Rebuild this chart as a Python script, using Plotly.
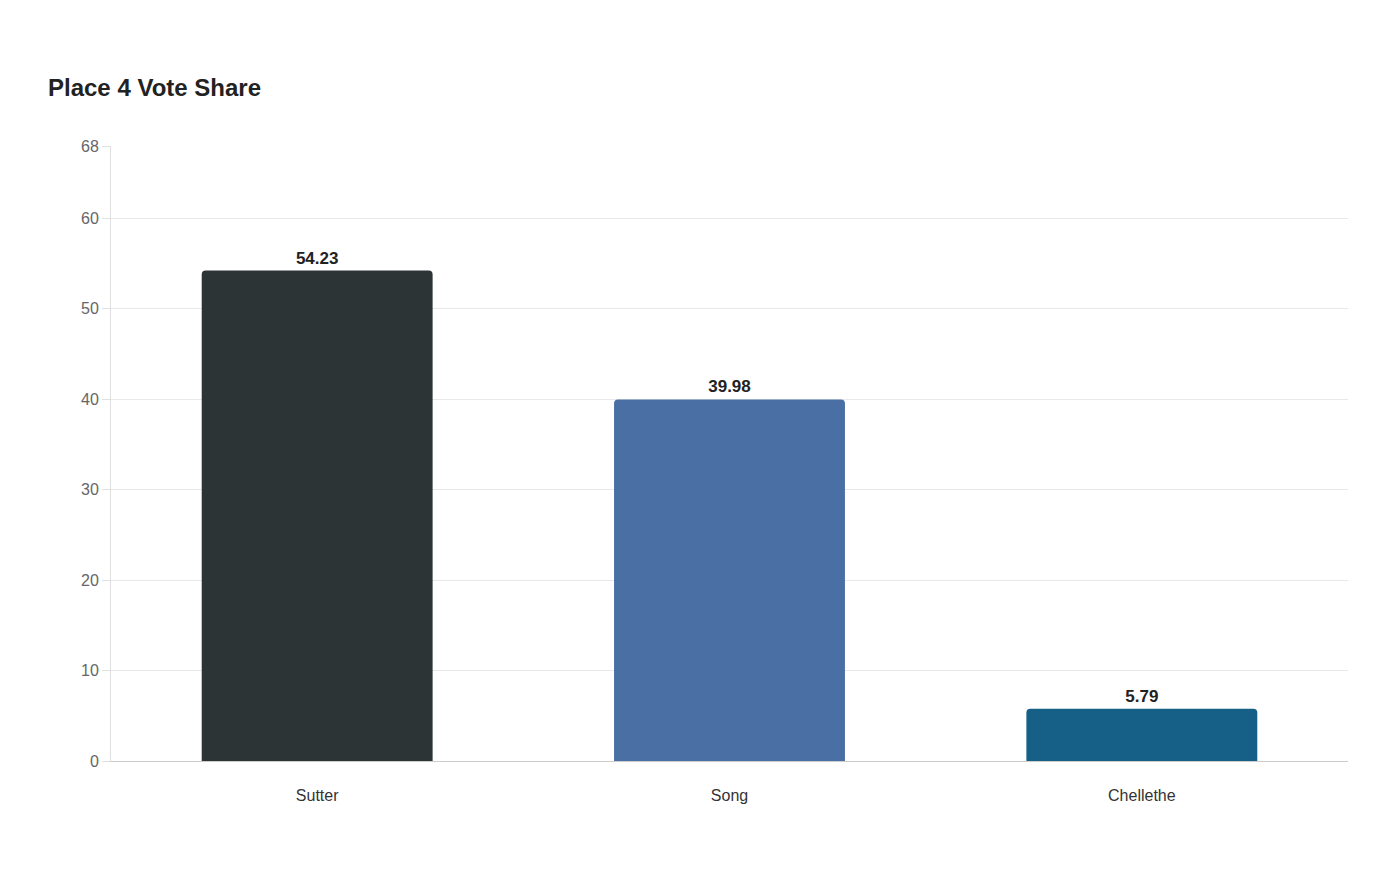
import plotly.graph_objects as go

categories = ["Sutter", "Song", "Chellethe"]
values = [54.23, 39.98, 5.79]
colors = ["#2d3436", "#4a6fa5", "#166088"]
y_ticks = [0, 10, 20, 30, 40, 50, 60, 68]

fig = go.Figure(go.Bar(
    x=categories, y=values, width=0.56,
    marker=dict(color=colors, cornerradius=4, line=dict(width=0)),
    text=[f"{v:.2f}" for v in values], textposition="outside",
    textfont=dict(family="Liberation Sans, Arial", size=17, color="#222"),
    texttemplate="<b>%{text}</b>", cliponaxis=False,
))
fig.update_layout(
    width=1400, height=880, plot_bgcolor="white", paper_bgcolor="white",
    margin=dict(l=103, r=60, t=138, b=127),
    title=dict(text="<b>Place 4 Vote Share</b>", x=40/1400, xanchor="left",
               y=1-80/880, yanchor="middle",
               font=dict(family="Liberation Sans, Arial", size=24, color="#222")),
    font=dict(family="Liberation Sans, Arial"),
    showlegend=False, bargap=0.44,
)
fig.update_yaxes(range=[0, 68], tickvals=y_ticks, showgrid=True, gridcolor="#e8e8e8",
                 zeroline=False, showline=True, linecolor="#e0e0e0",
                 ticks="outside", ticklen=8, tickcolor="#e0e0e0",
                 tickfont=dict(size=16, color="#666"))
fig.update_xaxes(showline=True, linecolor="#ccc", ticks="", ticklabelstandoff=20,
                 tickfont=dict(size=16, color="#333"))
fig.write_html("out.html")
